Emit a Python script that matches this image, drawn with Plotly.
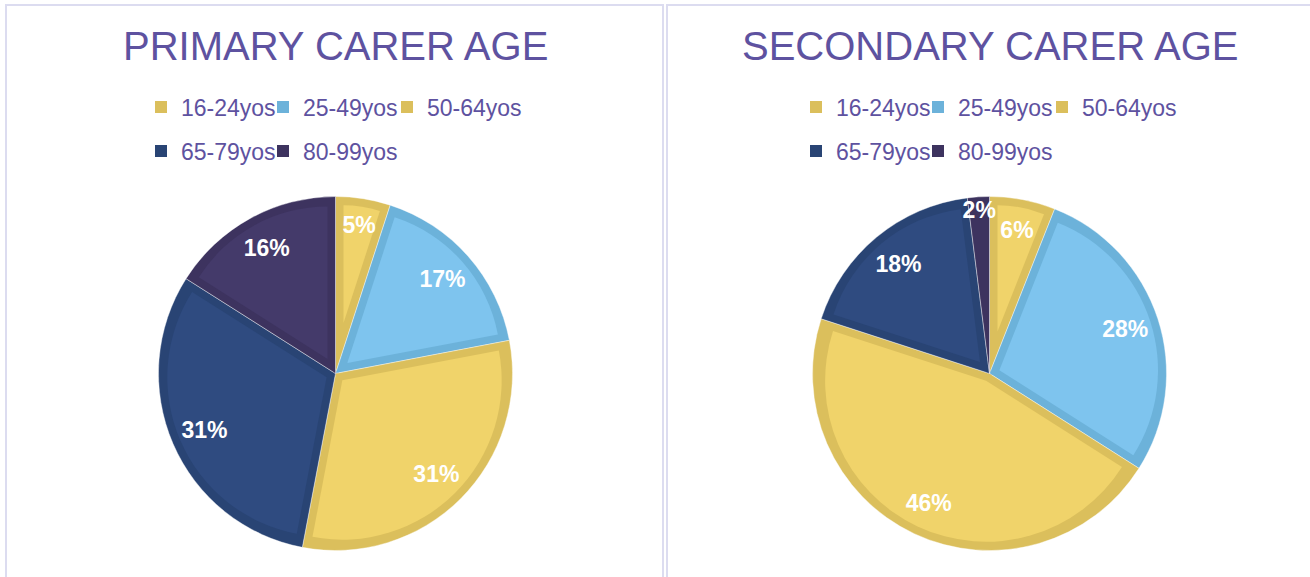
import math
import plotly.graph_objects as go

age_groups = ['16-24yos', '25-49yos', '50-64yos', '65-79yos', '80-99yos']
primary_pct = [5, 17, 31, 31, 16]
secondary_pct = [6, 28, 46, 18, 2]

fill_colors = ['#F0D36A', '#7EC4EE', '#F0D36A', '#2F4B80', '#443A6A']
edge_colors = ['#DBBF5C', '#6CB2DA', '#DBBF5C', '#294474', '#3D335F']

W, H = 1310, 577
purple = '#5E52A0'
font = 'Liberation Sans, Arial, sans-serif'
R = 177      # pie radius in px
BORDER = 8   # inner border of each slice in px

# legend entry slots: (column, row) for each age group, laid out 3 + 2
legend_slots = [(0, 0), (1, 0), (2, 0), (0, 1), (1, 1)]
col_x = [160, 282, 406]
row_y = [107, 151]


def dom(cx, cy, r):
    return dict(x=[(cx - r) / W, (cx + r) / W], y=[(H - cy - r) / H, (H - cy + r) / H])


fig = go.Figure()
legends = {}

panels = [(335.5, 0, primary_pct, 'PRIMARY CARER AGE', 'p'),
          (989.5, 655, secondary_pct, 'SECONDARY CARER AGE', 's')]

cy = 373.5
n = 0
for cx, shift, vals, title, grp in panels:
    # tiny pies hidden under the main pie, one per legend entry
    for k, label in enumerate(age_groups):
        n += 1
        lid = 'legend' if n == 1 else 'legend%d' % n
        fig.add_trace(go.Pie(labels=[label], values=[1], domain=dom(cx, cy, 3), sort=False,
                             marker=dict(colors=[edge_colors[k]]), textinfo='none',
                             hoverinfo='skip', legend=lid, legendgroup=grp))
        c, r = legend_slots[k]
        legends[lid] = dict(orientation='h', xanchor='left', yanchor='middle',
                            x=(col_x[c] + shift - 19) / W, y=(H - row_y[r]) / H,
                            bgcolor='rgba(0,0,0,0)', itemclick=False, itemdoubleclick=False,
                            font=dict(size=23, color=purple, family=font))

    # full pie in the darker edge colours
    fig.add_trace(go.Pie(labels=age_groups, values=vals, domain=dom(cx, cy, R), sort=False,
                         direction='clockwise', rotation=0, showlegend=False, textinfo='none',
                         marker=dict(colors=edge_colors,
                                     line=dict(color='rgba(255,255,255,0.5)', width=0.8))))

    # lighter fill of each slice, pulled out so a border of the darker colour stays around it
    total = sum(vals)
    for k in range(len(vals)):
        half = math.pi * vals[k] / total
        d = BORDER / math.sin(half)
        r_in = R - BORDER - d
        if r_in <= 0 or d / r_in > 1:
            continue  # slice too thin: it stays in the edge colour
        colors = ['rgba(0,0,0,0)'] * len(vals)
        colors[k] = fill_colors[k]
        pull = [0] * len(vals)
        pull[k] = d / r_in
        fig.add_trace(go.Pie(labels=age_groups, values=vals, domain=dom(cx, cy, R - BORDER),
                             sort=False, direction='clockwise', rotation=0, showlegend=False,
                             textinfo='none', hoverinfo='skip', pull=pull,
                             marker=dict(colors=colors, line=dict(width=0))))

    # transparent ring on top that carries the percentage labels near the rim
    fig.add_trace(go.Pie(labels=age_groups, values=vals, domain=dom(cx, cy, R - 3), sort=False,
                         direction='clockwise', rotation=0, showlegend=False, hole=0.64,
                         marker=dict(colors=['rgba(0,0,0,0)'] * 5, line=dict(width=0)),
                         texttemplate='%{percent:.0%}', textposition='inside',
                         insidetextorientation='horizontal', hoverinfo='skip',
                         textfont=dict(color='white', size=23, family=font, weight='bold')))
    fig.add_annotation(text=title, x=cx / W, y=(H - 46) / H, xref='paper', yref='paper',
                       showarrow=False, xanchor='center', yanchor='middle',
                       font=dict(size=40, color=purple, family=font))

fig.update_layout(
    width=W, height=H, margin=dict(l=0, r=0, t=0, b=0),
    paper_bgcolor='white', plot_bgcolor='white',
    uniformtext=dict(minsize=23, mode='show'),
    shapes=[
        dict(type='rect', xref='paper', yref='paper', x0=6 / W, x1=663 / W, y0=-0.1, y1=(H - 5) / H,
             line=dict(color='#DCDCF0', width=2), layer='below'),
        dict(type='rect', xref='paper', yref='paper', x0=667 / W, x1=1.1, y0=-0.1, y1=(H - 5) / H,
             line=dict(color='#DCDCF0', width=2), layer='below'),
    ],
    **legends,
)

fig.write_html('out.html', config={'displayModeBar': False},
               post_script="document.body.style.margin='0px';")
